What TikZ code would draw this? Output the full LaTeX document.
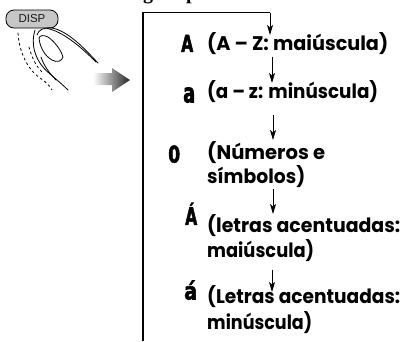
\documentclass[tikz,border=0pt]{standalone}
\usepackage{fontspec}
\usepackage{graphicx}
\setmainfont{Liberation Serif}
\newfontfamily\lblfont{Poppins}
\newfontfamily\lcdfont{DejaVu Sans Bold}[FakeBold=2.5]
\newfontfamily\btnfont{Liberation Sans}
\usetikzlibrary{arrows.meta}

% blocky display glyph, squeezed to a fixed width and height
\newcommand\lcdglyph[3]{\resizebox{#1pt}{#2pt}{\lcdfont #3}}
% label line set to a given width, keeping its height
\newcommand\fitline[2]{\resizebox{#1pt}{\height}{#2}}

\begin{document}
\begin{tikzpicture}[x=1pt,y=-1pt,
  lbl/.style={anchor=base west, inner sep=0pt,
    font=\lblfont\bfseries\fontsize{19.7}{24}\selectfont},
  lcd/.style={anchor=south west, inner sep=0pt},
  flow/.style={line width=1pt, -{Stealth[length=10pt,width=6pt,inset=2.5pt]}},
  loopline/.style={line width=1.1pt},
  finger/.style={line width=0.8pt, line cap=round, line join=round},
  ghost/.style={finger, dash pattern=on 2.2pt off 3pt},
  dispbtn/.style={draw, line width=0.8pt, fill=black!22, rounded corners=8pt,
    minimum width=52pt, minimum height=18pt, inner sep=0pt,
    font=\btnfont\fontsize{11.5}{11.5}\selectfont, text=black!90},
  title/.style={anchor=base west, inner sep=0pt,
    font=\bfseries\fontsize{20}{24}\selectfont}
]
\useasboundingbox (0,0) rectangle (404,341);
\clip (0,0) rectangle (404,341);

% heading above the loop, mostly outside the page
\node[title] (hg) at (143,-1) {g};
\node[title] (hp) at (186,-1) {p};

% DISP button
\node[dispbtn] (disp) at (32,19) {DISP};

% finger pressing the button
\draw[finger] (35,30) .. controls (31,42) and (33,60) .. (50,74)
              .. controls (57,80) and (63,85) .. (68,90);
\draw[finger] (37,35) .. controls (38,30) and (44,27) .. (52,28)
              .. controls (68,31) and (84,48) .. (98,63);
\draw[finger] (47,28.5) .. controls (62,31) and (80,46) .. (96,62);
\draw[finger] (39,38) .. controls (40,48) and (45,56) .. (52,60)
              .. controls (57,63) and (62,61) .. (63,57)
              .. controls (61,50) and (55,42) .. (48,37)
              .. controls (44,35) and (40,35) .. (39,38) -- cycle;
\draw[finger] (41,57) .. controls (44,66) and (50,74) .. (56,80);

% ghost outline of the finger
\draw[ghost] (18,33) .. controls (19,52) and (28,70) .. (40,78)
             .. controls (46,82) and (50,86) .. (52,90);
\draw[ghost] (29,47) .. controls (32,58) and (36,66) .. (42,72);

% shaded arrow pointing at the sequence
\shade[left color=white, right color=black!85]
  (93,73) -- (112,73) -- (112,68) -- (130,80) -- (112,92) -- (112,85) -- (93,85) -- cycle;

% loop line and arrow stops
\coordinate (loopbot) at (143,341);
\coordinate (loopcorner) at (143,12.5);
\coordinate (loopturn) at (270,12.5);
\coordinate (a1e) at (270,35);
\coordinate (a2s) at (272,57);  \coordinate (a2e) at (272,83);
\coordinate (a3s) at (273,115); \coordinate (a3e) at (273,140);
\coordinate (a4s) at (273,189); \coordinate (a4e) at (273,214);
\coordinate (a5s) at (272,270); \coordinate (a5e) at (272,292);

\draw[loopline] (loopbot) -- (loopcorner) -- (loopturn);
\draw[flow] (loopturn) -- (a1e);
\draw[flow] (a2s) -- (a2e);
\draw[flow] (a3s) -- (a3e);
\draw[flow] (a4s) -- (a4e);
\draw[flow] (a5s) -- (a5e);

% display glyphs
\node[lcd] (g1) at (181,52)  {\lcdglyph{12}{17}{A}};
\node[lcd] (g2) at (183,103) {\lcdglyph{12}{15}{a}};
\node[lcd] (g3) at (168,163) {\lcdglyph{12}{17}{0}};
\node[lcd] (g4) at (185,225) {\lcdglyph{12}{22}{Á}};
\node[lcd] (g5) at (184,300) {\lcdglyph{13}{19}{á}};

% character set labels
\node[lbl] (t1)  at (207,50)  {\fitline{181}{(A – Z: maiúscula)}};
\node[lbl] (t2)  at (207,98)  {\fitline{171}{(a – z: minúscula)}};
\node[lbl] (t3a) at (207,159) {\fitline{118}{(Números e}};
\node[lbl] (t3b) at (207,183) {\fitline{98}{símbolos)}};
\node[lbl] (t4a) at (207,232) {\fitline{193}{(letras acentuadas:}};
\node[lbl] (t4b) at (207,257) {\fitline{107}{maiúscula)}};
\node[lbl] (t5a) at (207,303) {\fitline{193}{(Letras acentuadas:}};
\node[lbl] (t5b) at (207,329) {\fitline{105}{minúscula)}};
\end{tikzpicture}
\end{document}
